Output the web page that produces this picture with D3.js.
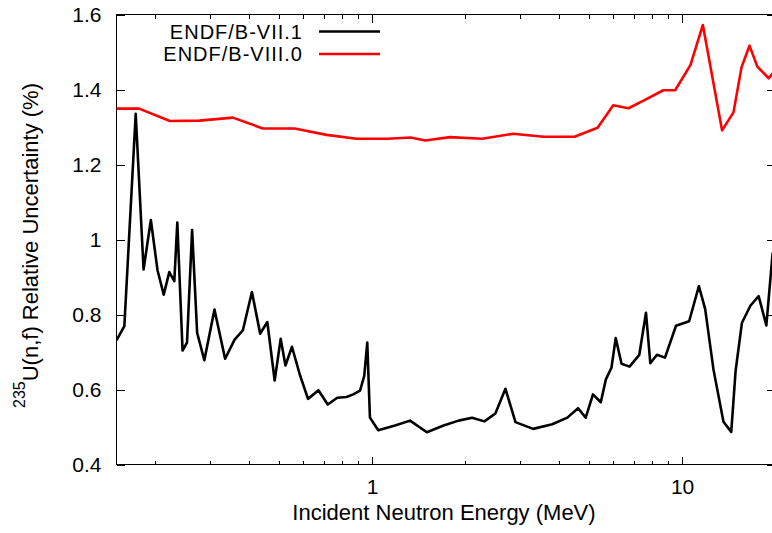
<!DOCTYPE html>
<html>
<head>
<meta charset="utf-8">
<script src="https://cdn.jsdelivr.net/npm/d3@7"></script>
<style>
  html, body { margin: 0; padding: 0; background: #fff; }
  svg { display: block; font-family: "Liberation Sans", Arial, Helvetica, sans-serif; }
</style>
</head>
<body>
<svg id="chart" width="772" height="533"></svg>
<script>
// 235U(n,f) relative uncertainty (%) vs incident neutron energy (MeV)
const energyVII1 = [0.15, 0.159, 0.173, 0.1834, 0.1936, 0.2034, 0.213, 0.222, 0.2304, 0.2356,
  0.245, 0.2532, 0.263, 0.273, 0.288, 0.3105, 0.336, 0.3606, 0.3834, 0.41,
  0.436, 0.4597, 0.4855, 0.5077, 0.526, 0.552, 0.585, 0.622, 0.672, 0.72,
  0.773, 0.828, 0.87, 0.915, 0.944, 0.9656, 0.985, 1.048, 1.187, 1.327,
  1.503, 1.702, 1.903, 2.102, 2.304, 2.5, 2.694, 2.903, 3.31, 3.815,
  4.266, 4.62, 4.89, 5.16, 5.47, 5.68, 5.92, 6.11, 6.38, 6.77,
  7.28, 7.65, 7.9, 8.3, 8.81, 9.56, 10.54, 11.33, 11.87, 12.63,
  13.6, 14.41, 14.88, 15.6, 16.63, 17.66, 18.7, 19.6];
const uncVII1 = [0.731, 0.769, 1.335, 0.92, 1.052, 0.918, 0.853, 0.913, 0.889, 1.045,
  0.704, 0.725, 1.025, 0.751, 0.678, 0.813, 0.682, 0.733, 0.758, 0.86,
  0.749, 0.78, 0.624, 0.735, 0.664, 0.714, 0.64, 0.575, 0.598, 0.56,
  0.578, 0.58, 0.587, 0.597, 0.636, 0.725, 0.525, 0.4915, 0.504, 0.517,
  0.486, 0.504, 0.517, 0.5245, 0.515, 0.536, 0.602, 0.513, 0.495, 0.5075,
  0.525, 0.55, 0.525, 0.587, 0.566, 0.627, 0.658, 0.737, 0.6685, 0.661,
  0.6925, 0.8045, 0.67, 0.6925, 0.685, 0.77, 0.782, 0.8755, 0.815, 0.653,
  0.514, 0.487, 0.649, 0.778, 0.824, 0.849, 0.771, 0.965];

const energyVIII0 = [0.15, 0.1775, 0.223, 0.2776, 0.356, 0.445, 0.563, 0.714, 0.892, 1.122,
  1.334, 1.484, 1.788, 2.265, 2.852, 3.567, 4.5, 5.34, 6.0, 6.72,
  7.46, 8.7, 9.5, 10.64, 11.67, 13.46, 14.65, 15.55, 16.5, 17.49,
  19.03, 19.6];
const uncVIII0 = [1.349, 1.349, 1.316, 1.317, 1.325, 1.296, 1.296, 1.279, 1.2685, 1.2685,
  1.272, 1.264, 1.273, 1.2685, 1.282, 1.274, 1.274, 1.298, 1.358, 1.35,
  1.369, 1.398, 1.398, 1.465, 1.572, 1.291, 1.339, 1.459, 1.517, 1.461,
  1.43, 1.443];

const seriesNames = ["ENDF/B-VII.1", "ENDF/B-VIII.0"];
const seriesColors = ["#000000", "#ff0000"];

const yTicks = [0.4, 0.6, 0.8, 1.0, 1.2, 1.4, 1.6];
const yTickLabels = ["0.4", "0.6", "0.8", "1", "1.2", "1.4", "1.6"];
const xMajorTicks = [1, 10];
const xMajorLabels = ["1", "10"];
const xMinorTicks = [0.2, 0.3, 0.4, 0.5, 0.6, 0.7, 0.8, 0.9, 2, 3, 4, 5, 6, 7, 8, 9, 20];

const xLabel = "Incident Neutron Energy (MeV)";
const yLabelSup = "235";
const yLabelMain = "U(n,f) Relative Uncertainty (%)";

const svg = d3.select("#chart");
const plotLeft = 116.5, plotRight = 775.4, plotTop = 14.5, plotBottom = 464.5;

const x = d3.scaleLog().domain([0.15, 20]).range([plotLeft, plotRight]);
const y = d3.scaleLinear().domain([0.4, 1.6]).range([plotBottom, plotTop]);

svg.append("defs").append("clipPath").attr("id", "plotclip")
  .append("rect").attr("x", plotLeft).attr("y", plotTop)
  .attr("width", plotRight - plotLeft).attr("height", plotBottom - plotTop);

// Axes with inward ticks on all four sides
const tickFont = "21px";
function styleAxis(g) {
  g.select(".domain").remove();
  g.selectAll(".tick line").attr("stroke", "#000").attr("stroke-width", 1)
    .attr("shape-rendering", "crispEdges");
  g.selectAll(".tick text").attr("fill", "#000").style("font-size", tickFont)
    .style("font-family", "'Liberation Sans', Arial, sans-serif");
}

svg.append("g").attr("transform", `translate(0,${plotBottom})`)
  .call(d3.axisBottom(x).tickValues(xMajorTicks).tickSize(-8).tickPadding(15)
    .tickFormat((d, i) => xMajorLabels[i]))
  .call(styleAxis);
svg.append("g").attr("transform", `translate(0,${plotBottom})`)
  .call(d3.axisBottom(x).tickValues(xMinorTicks).tickSize(-4).tickFormat(""))
  .call(styleAxis);
svg.append("g").attr("transform", `translate(0,${plotTop})`)
  .call(d3.axisTop(x).tickValues(xMajorTicks).tickSize(-8).tickFormat(""))
  .call(styleAxis);
svg.append("g").attr("transform", `translate(0,${plotTop})`)
  .call(d3.axisTop(x).tickValues(xMinorTicks).tickSize(-4).tickFormat(""))
  .call(styleAxis);
svg.append("g").attr("transform", `translate(${plotLeft},0)`)
  .call(d3.axisLeft(y).tickValues(yTicks).tickSize(-8).tickPadding(15)
    .tickFormat((d, i) => yTickLabels[i]))
  .call(styleAxis);
svg.append("g").attr("transform", `translate(${plotRight},0)`)
  .call(d3.axisRight(y).tickValues(yTicks).tickSize(-8).tickFormat(""))
  .call(styleAxis);

// Plot frame
svg.append("rect").attr("x", plotLeft).attr("y", plotTop)
  .attr("width", plotRight - plotLeft).attr("height", plotBottom - plotTop)
  .attr("fill", "none").attr("stroke", "#000").attr("stroke-width", 1)
  .attr("shape-rendering", "crispEdges");

// Data curves
const line = d3.line().x(d => x(d[0])).y(d => y(d[1]));
const series = [
  d3.zip(energyVII1, uncVII1),
  d3.zip(energyVIII0, uncVIII0)
];
const plot = svg.append("g").attr("clip-path", "url(#plotclip)");
series.forEach((pts, i) => {
  plot.append("path").datum(pts)
    .attr("d", line)
    .attr("fill", "none")
    .attr("stroke", seriesColors[i])
    .attr("stroke-width", 2.6)
    .attr("stroke-linejoin", "round");
});

// Legend (top-left, labels right-aligned before the line samples)
const legend = svg.append("g");
seriesNames.forEach((name, i) => {
  const yy = 31.5 + i * 22.5;
  legend.append("text").attr("x", 303).attr("y", yy)
    .attr("dy", "0.36em").attr("text-anchor", "end")
    .style("font-size", "20px").style("letter-spacing", "1px")
    .attr("fill", "#000").text(name);
  legend.append("line").attr("x1", 319).attr("x2", 380)
    .attr("y1", yy).attr("y2", yy)
    .attr("stroke", seriesColors[i]).attr("stroke-width", 2.6);
});

// Axis titles
svg.append("text").attr("x", 444).attr("y", 520)
  .attr("text-anchor", "middle").style("font-size", "22px").attr("fill", "#000")
  .text(xLabel);

const yt = svg.append("text")
  .attr("transform", "translate(38,245.5) rotate(-90)")
  .attr("text-anchor", "middle").style("font-size", "22px").attr("fill", "#000");
yt.append("tspan").attr("dy", -13).style("font-size", "16px").text(yLabelSup);
yt.append("tspan").attr("dy", 13).text(yLabelMain);
</script>
</body>
</html>
